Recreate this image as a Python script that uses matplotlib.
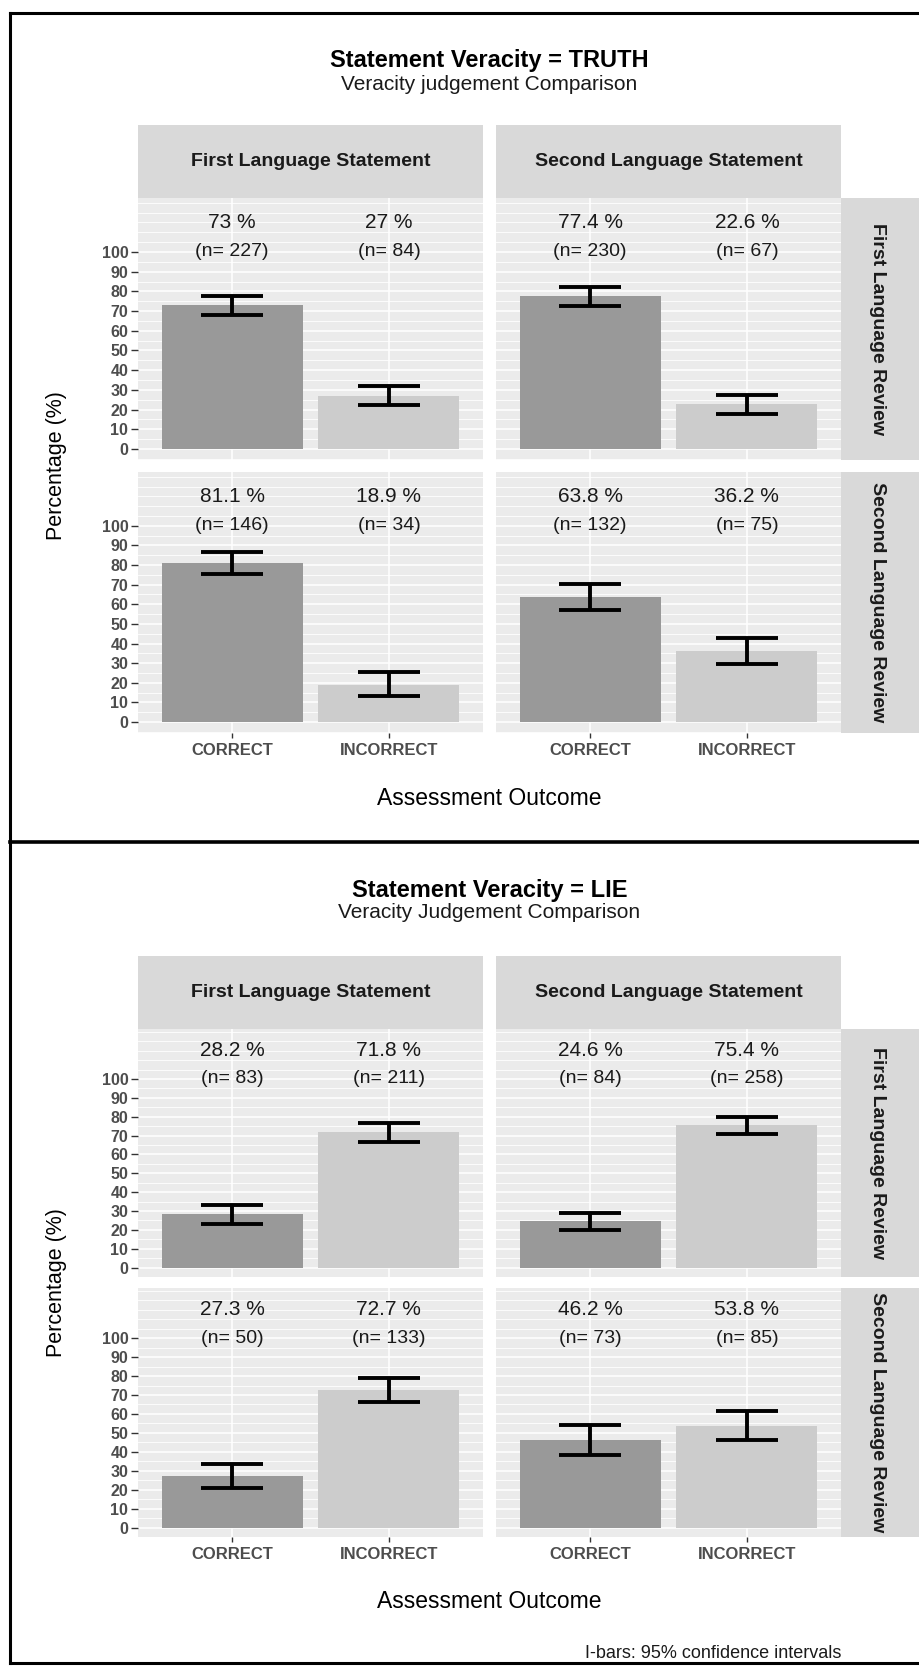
import matplotlib
matplotlib.use("Agg")
import matplotlib.pyplot as plt
from matplotlib.patches import Rectangle
from matplotlib.lines import Line2D
import numpy as np

plt.rcParams['font.family'] = ['Liberation Sans', 'DejaVu Sans']

W, H = 920, 1666

categories = ["CORRECT", "INCORRECT"]
statements = ["First Language Statement", "Second Language Statement"]
reviews = ["First Language Review", "Second Language Review"]

# values indexed [review][statement][outcome]
truth_pct = [[[73.0, 27.0], [77.4, 22.6]],
             [[81.1, 18.9], [63.8, 36.2]]]
truth_n = [[[227, 84], [230, 67]],
           [[146, 34], [132, 75]]]
truth_lo = [[[68.1, 22.1], [72.6, 17.8]],
            [[75.4, 13.4], [57.3, 29.7]]]
truth_hi = [[[77.9, 31.9], [82.2, 27.4]],
            [[86.8, 25.4], [70.3, 42.7]]]

lie_pct = [[[28.2, 71.8], [24.6, 75.4]],
           [[27.3, 72.7], [46.2, 53.8]]]
lie_n = [[[83, 211], [84, 258]],
         [[50, 133], [73, 85]]]
lie_lo = [[[23.1, 66.7], [20.0, 70.8]],
          [[20.8, 66.2], [38.4, 46.0]]]
lie_hi = [[[33.3, 76.9], [29.2, 80.0]],
          [[33.8, 79.2], [54.0, 61.6]]]

bar_colors = ["#999999", "#CCCCCC"]
panel_bg = "#EBEBEB"
strip_bg = "#D9D9D9"
cols = [(138, 483), (496, 841)]


def fx(x):
    return x / W


def fy(y):
    return 1 - y / H


def box(x0, y0, x1, y1):
    return [fx(x0), fy(y1), (x1 - x0) / W, (y1 - y0) / H]


def draw_block(fig, title, subtitle, pct, n, lo, hi, title_y, sub_y,
               strip, rows, ylim, xlabel_y):
    fig.text(fx(489.5), fy(title_y), title, ha='center', va='center',
             fontsize=17, fontweight='bold', color='black')
    fig.text(fx(489.5), fy(sub_y), subtitle, ha='center', va='center',
             fontsize=15, color='#1A1A1A')

    # column strips
    for j, (c0, c1) in enumerate(cols):
        fig.add_artist(Rectangle((fx(c0), fy(strip[1])), (c1 - c0) / W,
                                 (strip[1] - strip[0]) / H,
                                 transform=fig.transFigure,
                                 facecolor=strip_bg, edgecolor='none'))
        fig.text(fx((c0 + c1) / 2), fy((strip[0] + strip[1]) / 2),
                 statements[j], ha='center', va='center', fontsize=14,
                 fontweight='bold', color='#1A1A1A')

    for i, (r0, r1) in enumerate(rows):
        # row strip on the right
        fig.add_artist(Rectangle((fx(841), fy(r1)), (W - 841) / W,
                                 (r1 - r0) / H, transform=fig.transFigure,
                                 facecolor=strip_bg, edgecolor='none'))
        fig.text(fx(878), fy((r0 + r1) / 2), reviews[i], ha='center',
                 va='center', rotation=-90, fontsize=14,
                 fontweight='bold', color='#1A1A1A')

        for j, (c0, c1) in enumerate(cols):
            ax = fig.add_axes(box(c0, r0, c1, r1))
            ax.set_facecolor(panel_bg)
            ax.set_axisbelow(True)
            x = np.arange(1, 3)
            p = np.array(pct[i][j])
            l = np.array(lo[i][j])
            h = np.array(hi[i][j])
            ax.bar(x, p, width=0.9, color=bar_colors, zorder=2)
            ax.errorbar(x, p, yerr=[p - l, h - p], fmt='none',
                        ecolor='black', elinewidth=2.8, capsize=22,
                        capthick=2.8, zorder=3)
            for k in range(2):
                ax.text(x[k], 115, f"{p[k]:g} %", ha='center', va='center',
                        fontsize=15, color='#1A1A1A')
                ax.text(x[k], 100, f"(n= {n[i][j][k]})", ha='center',
                        va='center', fontsize=14, color='#1A1A1A')

            ax.set_xlim(0.4, 2.6)
            ax.set_ylim(*ylim)
            ax.set_xticks(x)
            ax.set_yticks(range(0, 101, 10))
            minor = [v for v in range(-5, 126, 5) if v % 10 or v > 100]
            ax.set_yticks(minor, minor=True)
            ax.grid(which='major', color='white', lw=1.1)
            ax.grid(which='minor', axis='y', color='white', lw=0.6)
            ax.tick_params(which='minor', length=0)
            for s in ax.spines.values():
                s.set_visible(False)

            if j == 0:
                ax.tick_params(axis='y', length=5, width=1, color='#333333',
                               labelsize=11.5, labelcolor='#4D4D4D', pad=2)
                for lbl in ax.get_yticklabels():
                    lbl.set_fontweight('bold')
            else:
                ax.tick_params(axis='y', left=False, labelleft=False)

            if i == 1:
                ax.set_xticklabels(categories, fontweight='bold')
                ax.tick_params(axis='x', length=3.5, width=1,
                               color='#333333', labelsize=12,
                               labelcolor='#4D4D4D', pad=4)
            else:
                ax.tick_params(axis='x', bottom=False, labelbottom=False)

    fig.text(fx(489.5), fy(xlabel_y), "Assessment Outcome", ha='center',
             va='center', fontsize=16.5, color='black')
    fig.text(fx(57), fy((rows[0][0] + rows[1][1]) / 2), "Percentage (%)",
             ha='center', va='center', rotation=90, fontsize=15.5,
             color='black')


fig = plt.figure(figsize=(W / 100, H / 100), dpi=100, facecolor='white')

draw_block(fig, "Statement Veracity = TRUTH", "Veracity judgement Comparison",
           truth_pct, truth_n, truth_lo, truth_hi, 60, 84, (125, 198),
           [(198, 460), (472, 733)], (-5.6, 127.4), 798)

draw_block(fig, "Statement Veracity = LIE", "Veracity Judgement Comparison",
           lie_pct, lie_n, lie_lo, lie_hi, 890, 913, (956, 1029),
           [(1029, 1277), (1288, 1537)], (-4.8, 126.5), 1602)

fig.text(fx(841), fy(1653), "I-bars: 95% confidence intervals", ha='right',
         va='center', fontsize=13, color='#1A1A1A')

# frame around the two charts
frame = [([10, W], [13, 13], 2.2),
         ([10, 10], [13, 1663], 2.2),
         ([10, W], [842, 842], 2.6),
         ([10, W], [1663, 1663], 2.2)]
for xs, ys, lw in frame:
    fig.add_artist(Line2D([fx(v) for v in xs], [fy(v) for v in ys],
                          color='black', lw=lw, transform=fig.transFigure))

fig.savefig("out.png", dpi=100, facecolor='white')
